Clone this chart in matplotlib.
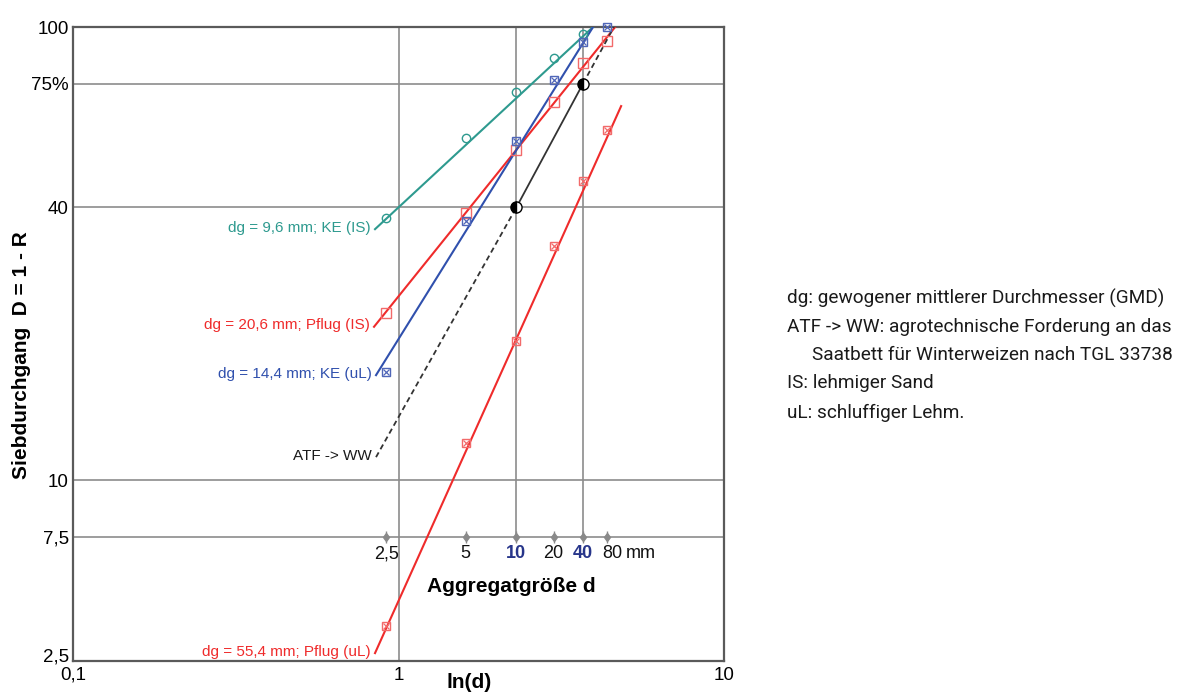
import numpy as np
import matplotlib
matplotlib.use("Agg")
import matplotlib.pyplot as plt

plt.rcParams["font.family"] = ["Liberation Sans", "DejaVu Sans"]

# aggregate sizes (mm); the x axis shows ln(d)
d_mm = np.array([2.5, 5, 10, 20, 40, 80])
d_labels = ["2,5", "5", "10", "20", "40", "80"]
d_bold = [False, False, True, False, True, False]

# sieve passing D = 1 - R in %, read per size class
ke_ls = [37.9, 56.9, 71.8, 85.4, 96.5]            # no value at 80 mm
pflug_ls = [23.4, 38.9, 53.5, 68.3, 83.3, 93.1]
ke_ul = [17.3, 37.3, 56.0, 76.4, 92.7, 100.0]
pflug_ul = [3.27, 12.1, 20.3, 32.9, 45.7, 59.2]
atf_d = [10, 40]
atf_D = [40, 75]

# regression lines: (ln d start, ln d end), (D start, D end)
ke_ls_line = ([0.847, 3.96], [35.8, 100])
pflug_ls_line = ([0.841, 4.63], [21.8, 100])
ke_ul_line = ([0.853, 3.96], [17.05, 100])
pflug_ul_line = ([0.847, 4.83], [2.55, 66.9])
atf_low = ([0.853, np.log(10)], [11.24, 40])
atf_high = ([np.log(40), 4.59], [75, 100])

y_ticks = [2.5, 7.5, 10, 40, 75, 100]
y_ticklabels = ["2,5", "7,5", "10", "40", "75%", "100"]

notes = [
    "dg: gewogener mittlerer Durchmesser (GMD)",
    "ATF -> WW: agrotechnische Forderung an das",
    "Saatbett für Winterweizen nach TGL 33738",
    "IS: lehmiger Sand",
    "uL: schluffiger Lehm.",
]
notes_x = [787, 787, 812, 787, 787]
notes_y = [298, 327, 355, 383, 413]

TEAL = "#2e9a8f"
RED = "#ef2b2b"
RED_M = "#f26a6a"
BLUE = "#3050ad"
NAVY = "#27358a"
GRID = "#8c8c8c"

# log scale, compressed below 7.5 (as in the original grid)
Y_BREAK = 7.5
K = 0.548


def fwd(y):
    y = np.clip(np.asarray(y, dtype=float), 1e-6, None)
    ly, lb = np.log10(y), np.log10(Y_BREAK)
    return np.where(y >= Y_BREAK, ly, lb + K * (ly - lb))


def inv(v):
    v = np.asarray(v, dtype=float)
    lb = np.log10(Y_BREAK)
    return np.where(v >= lb, 10.0 ** v, 10.0 ** (lb + (v - lb) / K))


fig = plt.figure(figsize=(11.85, 6.93), dpi=100)
ax = fig.add_axes([73 / 1185, 1 - 661 / 693, 651 / 1185, 634 / 693])
ax.set_xscale("log")
ax.set_yscale("function", functions=(fwd, inv))
ax.set_xlim(0.1, 10)
ax.set_ylim(2.37, 100)

# grid
for yv in [75, 40, 10, 7.5]:
    ax.axhline(yv, color=GRID, lw=1.2, zorder=1)
ax.axvline(1, color=GRID, lw=1.2, zorder=1)
ax.vlines(np.log([10, 40]), 7.5, 100, color=GRID, lw=1.2, zorder=1)

for s in ax.spines.values():
    s.set_color("#5a5a5a")
    s.set_linewidth(1.6)

ax.set_xticks([0.1, 1, 10])
ax.set_xticklabels(["0,1", "1", "10"])
ax.xaxis.set_minor_locator(matplotlib.ticker.NullLocator())
ax.set_yticks(y_ticks)
ax.set_yticklabels(y_ticklabels)
ax.yaxis.set_minor_locator(matplotlib.ticker.NullLocator())
ax.tick_params(length=0, labelsize=13.5, pad=3)
ax.tick_params(axis="x", pad=4)

# regression lines
ax.plot(*ke_ls_line, color=TEAL, lw=1.5, zorder=3)
ax.plot(*pflug_ls_line, color=RED, lw=1.5, zorder=3)
ax.plot(*ke_ul_line, color=BLUE, lw=1.5, zorder=3)
ax.plot(*pflug_ul_line, color=RED, lw=1.5, zorder=3)
ax.plot(*atf_low, color="#333333", lw=1.3, ls=(0, (3, 2)), zorder=3)
ax.plot(np.log(atf_d), atf_D, color="#333333", lw=1.3, zorder=3)
ax.plot(*atf_high, color="#333333", lw=1.3, ls=(0, (3, 2)), zorder=3)

# measured points
x_d = np.log(d_mm)
ax.plot(x_d[:len(ke_ls)], ke_ls, ls="none", marker="o", ms=6, mfc="none",
        mec=TEAL, mew=1.0, zorder=4, clip_on=False)
ax.plot(x_d, pflug_ls, ls="none", marker="s", ms=6.5, mfc="none",
        mec=RED_M, mew=1.0, zorder=4, clip_on=False)
for vals, col in [(ke_ul, "#5066b8"), (pflug_ul, RED_M)]:
    ax.plot(x_d, vals, ls="none", marker="s", ms=6, mfc="none", mec=col,
            mew=1.0, zorder=4, clip_on=False)
    ax.plot(x_d, vals, ls="none", marker="x", ms=4, mec=col, mew=0.9,
            zorder=4, clip_on=False)
ax.plot(np.log(atf_d), atf_D, ls="none", marker="o", ms=8, color="black",
        fillstyle="left", mfc="black", mfcalt="white", mec="black", mew=1.0,
        zorder=5)

# series labels at the start of each line
labels = [
    ("dg = 9,6 mm; KE (IS)", ke_ls_line, TEAL),
    ("dg = 20,6 mm; Pflug (IS)", pflug_ls_line, RED),
    ("dg = 14,4 mm; KE (uL)", ke_ul_line, BLUE),
    ("ATF -> WW", atf_low, "#1a1a1a"),
    ("dg = 55,4 mm; Pflug (uL)", pflug_ul_line, RED),
]
for txt, (lx, ly), col in labels:
    ax.annotate(txt, xy=(lx[0], ly[0]), xytext=(-3, 1), textcoords="offset points",
                ha="right", va="center", fontsize=11, color=col)

# aggregate size scale on the 7.5 line
ax.plot(x_d, [7.5] * len(x_d), ls="none", marker="d", ms=4.5, color="#8a8a8a", zorder=2)
ax.plot(x_d, [7.5] * len(x_d), ls="none", marker="|", ms=8, mew=1.0, color="#8a8a8a", zorder=2)
label_dx = [0, 0, 0, 0, 0, 3.5]   # "80 mm" sits a bit right of its tick
for xv, lab, bold, dx in zip(x_d, d_labels, d_bold, label_dx):
    ax.annotate(lab, xy=(xv, 7.5), xytext=(dx, -6), textcoords="offset points",
                ha="center", va="top", fontsize=13,
                fontweight="bold" if bold else "normal",
                color=NAVY if bold else "#111111")
ax.annotate("mm", xy=(x_d[-1], 7.5), xytext=(13.5, -6), textcoords="offset points",
            ha="left", va="top", fontsize=13, color="#111111")

fig.text(511 / 1185, 1 - 587 / 693, "Aggregatgröße d", ha="center", va="center",
         fontsize=15, fontweight="bold")
fig.text(469 / 1185, 1 - 682 / 693, "ln(d)", ha="center", va="center",
         fontsize=15, fontweight="bold")
fig.text(22 / 1185, 1 - 355 / 693, "Siebdurchgang  D = 1 - R", rotation=90,
         ha="center", va="center", fontsize=15, fontweight="bold")

# explanation block on the right
for line, xp, yp in zip(notes, notes_x, notes_y):
    fig.text(xp / 1185, 1 - yp / 693, line, ha="left", va="center",
             fontsize=13.7, family=["Roboto", "DejaVu Sans"], color="#1a1a1a")

fig.savefig("out.png", dpi=100)
